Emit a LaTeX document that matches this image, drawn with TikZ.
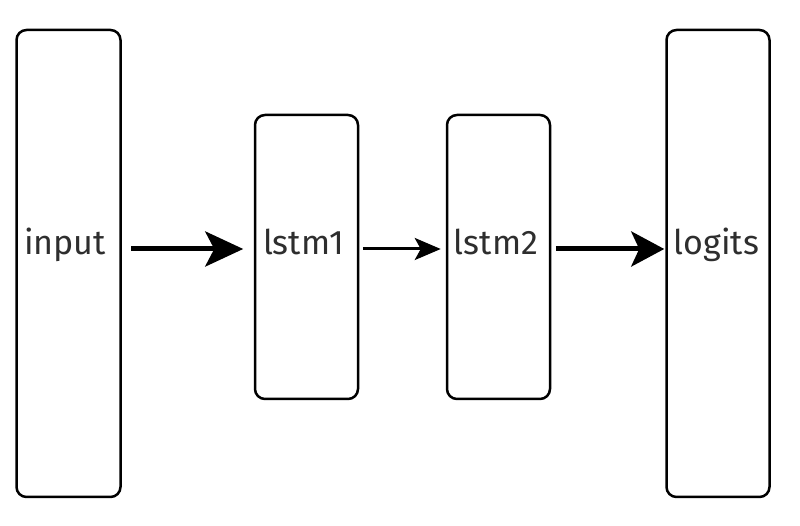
\documentclass[tikz,border=0pt]{standalone}
\usepackage{fontspec}
\setmainfont{Fira Sans}
\usetikzlibrary{arrows.meta}
\definecolor{txt}{HTML}{2E2E2E}
\tikzset{
  layer/.style={draw=black, line width=2.5pt, rounded corners=10pt},
  lbl/.style={text=txt, font=\fontsize{34}{40}\selectfont, anchor=base, inner sep=0pt},
  bigarrow/.style={line width=5pt, -{Stealth[length=38pt, width=35pt, inset=9pt]}},
  bigarrowb/.style={line width=5pt, -{Stealth[length=33pt, width=35pt, inset=8pt]}},
  smallarrow/.style={line width=3pt, -{Stealth[length=26pt, width=22pt, inset=6pt]}}
}
\begin{document}
\begin{tikzpicture}[x=1pt, y=1pt]
\useasboundingbox (0,0) rectangle (800,526);
\path[fill=white] (0,0) rectangle (800,526);
% boxes (y flipped: y_tikz = 526 - y_img)
\node[layer, minimum width=104pt, minimum height=467pt, inner sep=0pt] (input) at (68.5,262.5) {};
\node[layer, minimum width=103pt, minimum height=284pt, inner sep=0pt] (lstm1) at (306.5,269) {};
\node[layer, minimum width=103pt, minimum height=284pt, inner sep=0pt] (lstm2) at (498.5,269) {};
\node[layer, minimum width=103pt, minimum height=467pt, inner sep=0pt] (logits) at (718,262.5) {};
% labels
\node[lbl] (tin) at (65,271) {input};
\node[lbl] (tl1) at (303.5,271) {lstm1};
\node[lbl] (tl2) at (496,271) {lstm2};
\node[lbl] (tlo) at (716.5,271) {logits};
% arrow level
\coordinate (ay) at (0,277);
\draw[bigarrow, shorten <=9.5pt, shorten >=10.5pt] (input.east |- ay) -- (lstm1.west |- ay);
\draw[smallarrow, shorten <=3.5pt, shorten >=5pt] (lstm1.east |- ay) -- (lstm2.west |- ay);
\draw[bigarrowb, shorten <=4.5pt, shorten >=1pt] (lstm2.east |- ay) -- (logits.west |- ay);
\end{tikzpicture}
\end{document}
